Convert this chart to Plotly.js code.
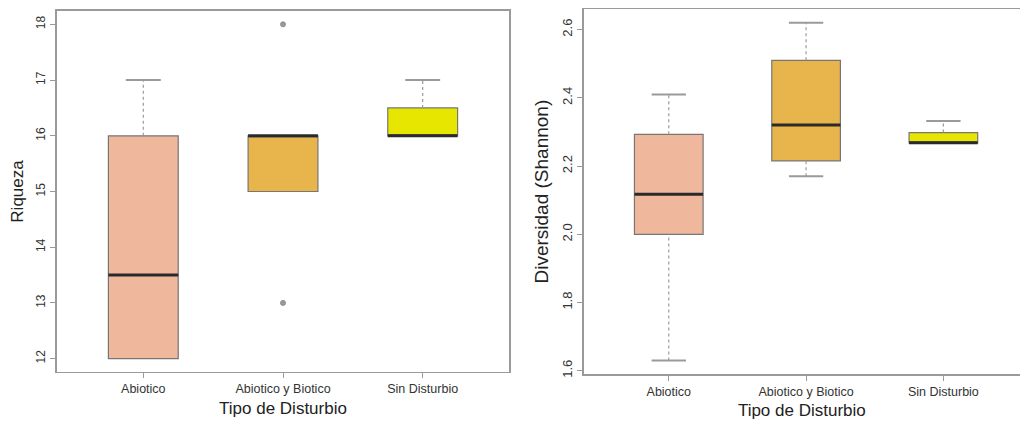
<!DOCTYPE html>
<html>
<head>
<meta charset="utf-8">
<script src="https://cdn.plot.ly/plotly-3.0.1.min.js"></script>
<style>
  html, body { margin: 0; padding: 0; background: #ffffff; }
  #chart { width: 1020px; height: 421px; }
</style>
</head>
<body>
<div id="chart"></div>
<script>
// ---- Data ----
const categories = ['Abiotico', 'Abiotico y Biotico', 'Sin Disturbio'];
const boxColors = ['#EFB89C', '#E8B44C', '#E6E600'];

// Riqueza (left panel)
const riqLower  = [12, 15, 16];
const riqQ1     = [12, 15, 16];
const riqMedian = [13.5, 16, 16];
const riqQ3     = [16, 16, 16.5];
const riqUpper  = [17, 16, 17];
const riqOutCat = ['Abiotico y Biotico', 'Abiotico y Biotico'];
const riqOutVal = [18, 13];

// Diversidad (Shannon) (right panel)
const divLower  = [1.63, 2.17, 2.268];
const divQ1     = [2.0, 2.215, 2.268];
const divMedian = [2.117, 2.32, 2.268];
const divQ3     = [2.293, 2.51, 2.298];
const divUpper  = [2.41, 2.62, 2.332];
const divOutCat = [];
const divOutVal = [];

const yTicksLeft  = [12, 13, 14, 15, 16, 17, 18];
const yTicksRight = [1.6, 1.8, 2.0, 2.2, 2.4, 2.6];

// ---- Styling ----
const BOX_W = 0.5, CAP_W = 0.25;
const borderCol = '#767676', whiskCol = '#9a9a9a', medCol = '#2a2a2a';
const axisCol = '#9a9a9a';
const FONT = 'Liberation Sans, Arial, sans-serif';

function catPos(c) { return categories.indexOf(c) + 1; }

function panel(lower, q1, med, q3, upper, outCat, outVal, xa, ya) {
  const tr = [];
  categories.forEach((c, i) => {
    const p = i + 1;
    // box body
    tr.push({
      type: 'box', x: [p], q1: [q1[i]], median: [med[i]], q3: [q3[i]],
      lowerfence: [q1[i]], upperfence: [q3[i]], width: BOX_W,
      whiskerwidth: 0, boxpoints: false,
      fillcolor: boxColors[i], line: { color: borderCol, width: 1.2 },
      xaxis: xa, yaxis: ya, hoverinfo: 'skip', showlegend: false
    });
    // whiskers (dotted)
    if (upper[i] > q3[i]) tr.push({
      type: 'scatter', mode: 'lines', x: [p, p], y: [q3[i], upper[i]],
      line: { color: whiskCol, width: 1.2, dash: 'dot' }, xaxis: xa, yaxis: ya, hoverinfo: 'skip', showlegend: false
    });
    if (lower[i] < q1[i]) tr.push({
      type: 'scatter', mode: 'lines', x: [p, p], y: [lower[i], q1[i]],
      line: { color: whiskCol, width: 1.2, dash: 'dot' }, xaxis: xa, yaxis: ya, hoverinfo: 'skip', showlegend: false
    });
    // staples
    if (upper[i] > q3[i]) tr.push({
      type: 'scatter', mode: 'lines', x: [p - CAP_W / 2, p + CAP_W / 2], y: [upper[i], upper[i]],
      line: { color: whiskCol, width: 2 }, xaxis: xa, yaxis: ya, hoverinfo: 'skip', showlegend: false
    });
    if (lower[i] < q1[i]) tr.push({
      type: 'scatter', mode: 'lines', x: [p - CAP_W / 2, p + CAP_W / 2], y: [lower[i], lower[i]],
      line: { color: whiskCol, width: 2 }, xaxis: xa, yaxis: ya, hoverinfo: 'skip', showlegend: false
    });
    // median
    tr.push({
      type: 'scatter', mode: 'lines', x: [p - BOX_W / 2, p + BOX_W / 2], y: [med[i], med[i]],
      line: { color: medCol, width: 3 }, xaxis: xa, yaxis: ya, hoverinfo: 'skip', showlegend: false
    });
  });
  if (outVal.length) tr.push({
    type: 'scatter', mode: 'markers', x: outCat.map(catPos), y: outVal,
    marker: { symbol: 'circle', size: 5, color: '#9a9a9a', line: { width: 0.8, color: '#808080' } },
    xaxis: xa, yaxis: ya, hoverinfo: 'skip', showlegend: false
  });
  return tr;
}

function rangeOf(lo, hi) { const d = (hi - lo) * 0.04; return [lo - d, hi + d]; }

const leftLo = Math.min(...riqLower, ...riqOutVal), leftHi = Math.max(...riqUpper, ...riqOutVal);
const rightLo = Math.min(...divLower), rightHi = Math.max(...divUpper);

const traces = [].concat(
  panel(riqLower, riqQ1, riqMedian, riqQ3, riqUpper, riqOutCat, riqOutVal, 'x', 'y'),
  panel(divLower, divQ1, divMedian, divQ3, divUpper, divOutCat, divOutVal, 'x2', 'y2')
);

const xCommon = {
  tickmode: 'array', tickvals: [1, 2, 3], ticktext: categories,
  ticks: 'outside', ticklen: 5, tickcolor: axisCol, tickwidth: 1,
  showline: true, mirror: true, linecolor: axisCol, linewidth: 1.5,
  showgrid: false, zeroline: false, fixedrange: true,
  tickfont: { family: FONT, size: 12.5, color: '#333' }
};
const yCommon = {
  ticks: 'outside', ticklen: 5, tickcolor: axisCol, tickwidth: 1,
  showline: true, mirror: true, linecolor: axisCol, linewidth: 1.5,
  showgrid: false, zeroline: false, fixedrange: true, tickangle: -90
};

const layout = {
  width: 1020, height: 421,
  margin: { l: 0, r: 0, t: 0, b: 0 },
  paper_bgcolor: '#ffffff', plot_bgcolor: '#ffffff',
  showlegend: false,
  font: { family: FONT, color: '#222' },
  xaxis: Object.assign({}, xCommon, {
    domain: [0.0556, 0.4993], range: [0.38, 3.62], anchor: 'y',
    title: { text: 'Tipo de Disturbio', font: { family: FONT, size: 17, color: '#222' }, standoff: 6 }
  }),
  yaxis: Object.assign({}, yCommon, {
    domain: [0.1164, 0.9739], range: rangeOf(leftLo, leftHi), anchor: 'x',
    tickvals: yTicksLeft, tickfont: { family: FONT, size: 12, color: '#333' },
    title: { text: 'Riqueza', font: { family: FONT, size: 17, color: '#222' }, standoff: 6 }
  }),
  xaxis2: Object.assign({}, xCommon, {
    domain: [0.5722, 1.0], range: [0.38, 3.558], anchor: 'y2',
    title: { text: 'Tipo de Disturbio', font: { family: FONT, size: 17, color: '#222' }, standoff: 6 }
  }),
  yaxis2: Object.assign({}, yCommon, {
    domain: [0.1116, 0.978], range: rangeOf(rightLo, rightHi), anchor: 'x2',
    tickvals: yTicksRight, tickformat: '.1f', tickfont: { family: FONT, size: 13, color: '#333' },
    title: { text: 'Diversidad (Shannon)', font: { family: FONT, size: 19, color: '#222' }, standoff: 6 }
  })
};

Plotly.newPlot('chart', traces, layout, { staticPlot: true, displayModeBar: false });
</script>
</body>
</html>
